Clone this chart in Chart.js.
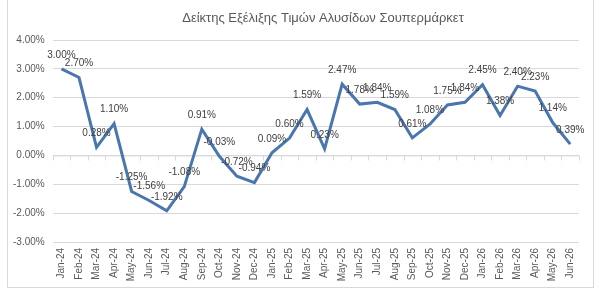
<!DOCTYPE html>
<html lang="el">
<head>
<meta charset="UTF-8">
<title>Δείκτης Εξέλιξης Τιμών</title>
<script src="https://cdn.jsdelivr.net/npm/chart.js"></script>
<style>
  html, body { margin: 0; padding: 0; background: #fff; }
  #wrap { position: relative; width: 610px; height: 303px; }
  #frame { position: absolute; left: 7px; top: -2px; width: 585px; height: 288px; border: 1px solid #d9d9d9; pointer-events: none; }
</style>
</head>
<body>
<div id="wrap">
  <canvas id="chart" width="610" height="303"></canvas>
  <div id="frame"></div>
</div>
<script>
const months = ['Jan-24','Feb-24','Mar-24','Apr-24','May-24','Jun-24','Jul-24','Aug-24','Sep-24','Oct-24','Nov-24','Dec-24',
  'Jan-25','Feb-25','Mar-25','Apr-25','May-25','Jun-25','Jul-25','Aug-25','Sep-25','Oct-25','Nov-25','Dec-25',
  'Jan-26','Feb-26','Mar-26','Apr-26','May-26','Jun-26'];
const values = [3.00, 2.70, 0.28, 1.10, -1.25, -1.56, -1.92, -1.08, 0.91, -0.03, -0.72, -0.94,
  0.09, 0.60, 1.59, 0.23, 2.47, 1.78, 1.84, 1.59, 0.61, 1.08, 1.75, 1.84,
  2.45, 1.38, 2.40, 2.23, 1.14, 0.39];
const chartTitle = 'Δείκτης Εξέλιξης Τιμών Αλυσίδων Σουπερμάρκετ';

const pct = v => v.toFixed(2) + '%';
const FONT = '"Liberation Sans", Arial, sans-serif';

// title, drawn by hand so it sits where Excel put it
const titlePlugin = {
  id: 'titlePlugin',
  afterDraw(chart) {
    const ctx = chart.ctx;
    ctx.save();
    ctx.font = '13px ' + FONT;
    ctx.fillStyle = '#595959';
    ctx.textAlign = 'center';
    ctx.textBaseline = 'middle';
    ctx.fillText(chartTitle, 323, 18);
    ctx.restore();
  }
};

// labels above each point
const pointLabels = {
  id: 'pointLabels',
  afterDatasetsDraw(chart) {
    const ctx = chart.ctx;
    const meta = chart.getDatasetMeta(0);
    ctx.save();
    ctx.font = '10px ' + FONT;
    ctx.fillStyle = '#404040';
    ctx.textAlign = 'center';
    ctx.textBaseline = 'bottom';
    meta.data.forEach((pt, i) => {
      ctx.fillText(pct(values[i]), pt.x, pt.y - 9);
    });
    ctx.restore();
  }
};

// category axis line + tick marks sitting on the zero line
const zeroAxis = {
  id: 'zeroAxis',
  beforeDatasetsDraw(chart) {
    const ctx = chart.ctx;
    const x = chart.scales.x, y = chart.scales.y;
    const y0 = y.getPixelForValue(0);
    ctx.save();
    ctx.strokeStyle = '#d9d9d9';
    ctx.lineWidth = 1;
    ctx.beginPath();
    ctx.moveTo(x.left, y0 + 0.5);
    ctx.lineTo(x.right, y0 + 0.5);
    const step = (x.right - x.left) / months.length;
    for (let i = 0; i <= months.length; i++) {
      const px = Math.round(x.left + i * step) + 0.5;
      ctx.moveTo(px, y0);
      ctx.lineTo(px, y0 + 5);
    }
    ctx.stroke();
    ctx.restore();
  }
};

new Chart(document.getElementById('chart'), {
  type: 'line',
  data: {
    labels: months,
    datasets: [{
      data: values,
      borderColor: '#4a76b0',
      borderWidth: 3,
      pointRadius: 0,
      tension: 0,
      fill: false
    }]
  },
  options: {
    responsive: false,
    animation: false,
    layout: { padding: { top: 40, left: 5, right: 31, bottom: 16 } },
    plugins: {
      legend: { display: false },
      tooltip: { enabled: false },
      title: { display: false }
    },
    scales: {
      x: {
        offset: true,
        grid: { display: false, drawTicks: false },
        border: { display: false },
        afterFit: s => { s.height = 45; },
        ticks: {
          color: '#595959',
          font: { family: FONT, size: 10 },
          minRotation: 90,
          maxRotation: 90,
          autoSkip: false,
          padding: 6
        }
      },
      y: {
        min: -3,
        max: 4,
        grid: { color: '#d9d9d9', drawTicks: false },
        border: { display: false },
        ticks: {
          stepSize: 1,
          color: '#595959',
          font: { family: FONT, size: 10 },
          padding: 8,
          callback: v => pct(v)
        }
      }
    }
  },
  plugins: [zeroAxis, pointLabels, titlePlugin]
});
</script>
</body>
</html>
